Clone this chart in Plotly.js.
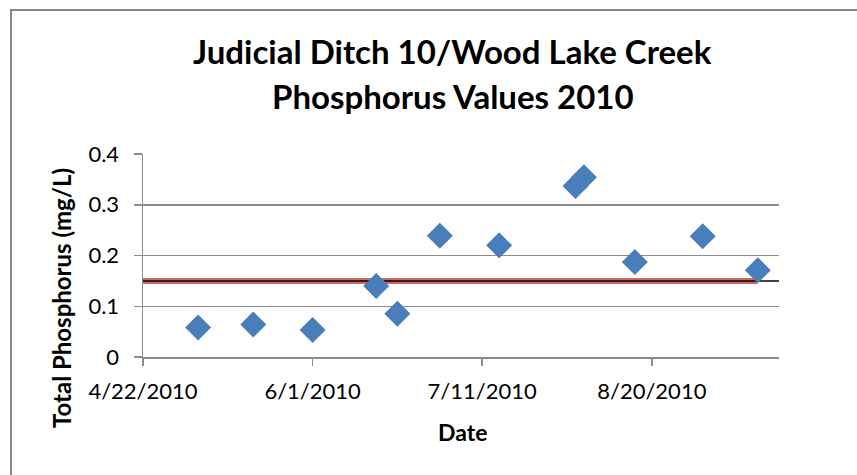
<!DOCTYPE html>
<html>
<head>
<meta charset="utf-8">
<script src="https://cdn.plot.ly/plotly-3.0.1.min.js"></script>
<style>
  html, body { margin: 0; padding: 0; background: #ffffff; }
  #chart { width: 857px; height: 475px; }
</style>
</head>
<body>
<div id="chart"></div>
<script>
// Sample dates and total phosphorus values (mg/L)
const sampleDates = ['2010-05-05', '2010-05-18', '2010-06-01', '2010-06-16', '2010-06-21',
                     '2010-07-01', '2010-07-15', '2010-08-02', '2010-08-04', '2010-08-16',
                     '2010-09-01', '2010-09-14'];
const phosphorus = [0.058, 0.064, 0.053, 0.140, 0.085, 0.239, 0.220, 0.337, 0.354, 0.187, 0.238, 0.171];

// Standard (0.15 mg/L)
const standardDatesRed = ['2010-04-22', '2010-09-14'];
const standardValuesRed = [0.15, 0.15];
const standardDatesBlack = ['2010-04-22', '2010-09-19'];
const standardValuesBlack = [0.15, 0.15];

// Axis ticks
const xTickDates = ['2010-04-22', '2010-06-01', '2010-07-11', '2010-08-20'];
const xTickLabels = ['4/22/2010', '6/1/2010', '7/11/2010', '8/20/2010'];
const yTickValues = [0, 0.1, 0.2, 0.3, 0.4];
const yTickLabels = ['0', '0.1', '0.2', '0.3', '0.4'];

// Titles
const titleLines = ['Judicial Ditch 10/Wood Lake Creek', 'Phosphorus Values 2010'];
const xTitle = 'Date';
const yTitle = 'Total Phosphorus (mg/L)';

const FONT = 'Lato, "Open Sans", sans-serif';
const GRID = '#8c8c8c';

// plot area in pixels: x 143..779, y 154..357
const py = p => (357 - p) / 203;
const px = p => (p - 143) / 636;

const traces = [
  {
    x: standardDatesRed, y: standardValuesRed, type: 'scatter', mode: 'lines',
    line: { color: 'rgba(192,80,77,0.85)', width: 6 }, hoverinfo: 'skip', showlegend: false
  },
  {
    x: standardDatesBlack, y: standardValuesBlack, type: 'scatter', mode: 'lines',
    line: { color: '#000000', width: 1.5 }, hoverinfo: 'skip', showlegend: false, cliponaxis: false
  },
  {
    x: sampleDates, y: phosphorus, type: 'scatter', mode: 'markers',
    marker: { symbol: 'diamond', size: 20, color: '#4a7ebb', line: { width: 0 } },
    showlegend: false, cliponaxis: false
  }
];

const layout = {
  width: 857, height: 475,
  margin: { l: 143, r: 78, t: 154, b: 118 },
  paper_bgcolor: '#ffffff', plot_bgcolor: '#ffffff',
  font: { family: FONT, color: '#000000' },
  showlegend: false,
  annotations: [
    {
      text: '<b>' + titleLines[0] + '</b>', xref: 'paper', yref: 'paper',
      x: px(452), y: py(51), xanchor: 'center', yanchor: 'middle', showarrow: false,
      font: { family: FONT, size: 33, color: '#000000' }
    },
    {
      text: '<b>' + titleLines[1] + '</b>', xref: 'paper', yref: 'paper',
      x: px(453), y: py(96), xanchor: 'center', yanchor: 'middle', showarrow: false,
      font: { family: FONT, size: 33, color: '#000000' }
    },
    {
      text: '<b>' + xTitle + '</b>', xref: 'paper', yref: 'paper',
      x: px(462), y: py(432), xanchor: 'center', yanchor: 'middle', showarrow: false,
      font: { family: FONT, size: 23, color: '#000000' }
    },
    {
      text: '<b>' + yTitle + '</b>', xref: 'paper', yref: 'paper', textangle: -90,
      x: px(61), y: py(298), xanchor: 'center', yanchor: 'middle', showarrow: false,
      font: { family: FONT, size: 24, color: '#000000' }
    }
  ],
  xaxis: {
    type: 'date',
    range: ['2010-04-22', '2010-09-19'],
    tickmode: 'array', tickvals: xTickDates, ticktext: xTickLabels,
    tickfont: { family: FONT, size: 22, color: '#000000' },
    ticks: 'outside', ticklen: 7, tickcolor: GRID, tickwidth: 1.5,
    showgrid: false, zeroline: false,
    showline: true, linecolor: GRID, linewidth: 1.5,
    ticklabelstandoff: 7,
    automargin: false
  },
  yaxis: {
    range: [0, 0.4],
    tickmode: 'array', tickvals: yTickValues, ticktext: yTickLabels,
    tickfont: { family: FONT, size: 22, color: '#000000' },
    ticks: 'outside', ticklen: 8, tickcolor: GRID, tickwidth: 1.5,
    showgrid: true, gridcolor: GRID, gridwidth: 1.5,
    zeroline: false,
    showline: true, linecolor: GRID, linewidth: 1.5,
    ticklabelstandoff: 10,
    automargin: false
  },
  shapes: [
    {
      type: 'rect', xref: 'paper', yref: 'paper',
      x0: px(11), x1: px(870),
      y0: py(490), y1: py(10),
      line: { color: '#868686', width: 2 }, fillcolor: 'rgba(0,0,0,0)', layer: 'below'
    }
  ]
};

Plotly.newPlot('chart', traces, layout, { displayModeBar: false, staticPlot: true });
</script>
</body>
</html>
